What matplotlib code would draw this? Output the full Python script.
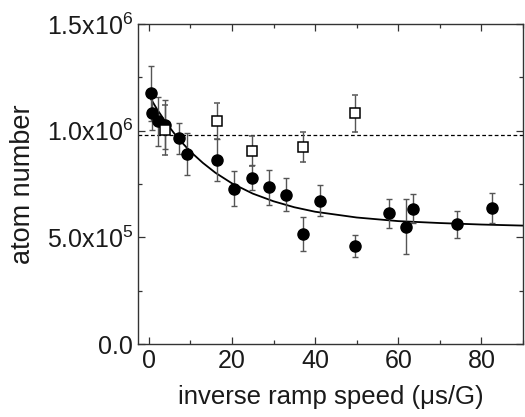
import matplotlib
matplotlib.use("Agg")
import matplotlib.pyplot as plt
from matplotlib.ticker import MultipleLocator, FixedLocator

plt.rcParams['font.family'] = ['Liberation Sans', 'DejaVu Sans']
plt.rcParams['mathtext.default'] = 'regular'

# filled circles: inverse ramp speed (us/G), atom number, error
circ_x = [0.5, 0.65, 2.2, 3.8, 7.2, 9.2, 16.5, 20.6, 24.8, 28.9, 33.0, 37.0, 41.2,
          49.6, 57.8, 61.8, 63.6, 74.2, 82.6]
circ_y = [11.75e5, 10.81e5, 10.45e5, 10.27e5, 9.64e5, 8.90e5, 8.62e5, 7.28e5, 7.80e5,
          7.34e5, 7.00e5, 5.16e5, 6.72e5, 4.59e5, 6.12e5, 5.50e5, 6.33e5, 5.61e5, 6.36e5]
circ_err = [1.3e5, 0.8e5, 1.15e5, 1.15e5, 0.74e5, 0.98e5, 0.98e5, 0.82e5, 0.6e5,
            0.82e5, 0.76e5, 0.8e5, 0.74e5, 0.5e5, 0.68e5, 1.3e5, 0.68e5, 0.62e5, 0.7e5]

# open squares
sq_x = [3.8, 16.5, 24.8, 37.0, 49.6]
sq_y = [10.03e5, 10.45e5, 9.05e5, 9.23e5, 10.81e5]
sq_err = [1.15e5, 0.85e5, 0.7e5, 0.72e5, 0.85e5]

# fit curve
fit_x = [0, 2, 4, 6, 8, 10, 13, 16, 20, 25, 30, 35, 40, 50, 60, 70, 80, 90]
fit_y = [11.65e5, 11.00e5, 10.42e5, 9.90e5, 9.44e5, 9.02e5, 8.49e5, 8.03e5, 7.53e5,
         7.05e5, 6.69e5, 6.41e5, 6.20e5, 5.93e5, 5.76e5, 5.67e5, 5.60e5, 5.55e5]

ref_level = 9.78e5

fig = plt.figure(figsize=(5.25, 4.17), dpi=100)
ax = fig.add_axes([138/525, 1-344/417, 385/525, 320/417])

ax.axhline(ref_level, color='black', lw=0.9, ls=(0, (3, 2)))
ax.plot(fit_x, fit_y, color='black', lw=1.3)

ax.errorbar(circ_x, circ_y, yerr=circ_err, fmt='o', color='black', ms=8,
            ecolor='#555555', elinewidth=1.0, capsize=2.5, capthick=1.0)
ax.errorbar(sq_x, sq_y, yerr=sq_err, fmt='s', mfc='white', mec='black', mew=1.1,
            ms=6.5, ecolor='#555555', elinewidth=1.0, capsize=2.5, capthick=1.0)

ax.set_xlim(-2.6, 90)
ax.set_ylim(0, 1.5e6)
ax.xaxis.set_major_locator(MultipleLocator(20))
ax.xaxis.set_minor_locator(MultipleLocator(10))
ax.yaxis.set_major_locator(FixedLocator([0, 5e5, 1e6, 1.5e6]))
ax.yaxis.set_minor_locator(MultipleLocator(2.5e5))
ax.set_yticklabels(['0.0', r'5.0x10$^{5}$', r'1.0x10$^{6}$', r'1.5x10$^{6}$'])

ax.tick_params(which='both', direction='in', top=True, right=True, labelsize=18,
               width=0.9, color='#333333', labelcolor='#1a1a1a')
ax.tick_params(which='major', length=5, pad=3.5)
ax.tick_params(which='minor', length=3)
for s in ax.spines.values():
    s.set_linewidth(1.0)
    s.set_color('#333333')

ax.set_xlabel(u'inverse ramp speed (\u03bcs/G)', fontsize=18.5, labelpad=9, color='#1a1a1a')
ax.set_ylabel('atom number', fontsize=19.5, labelpad=8, color='#1a1a1a')

fig.savefig('out.png', dpi=100)
